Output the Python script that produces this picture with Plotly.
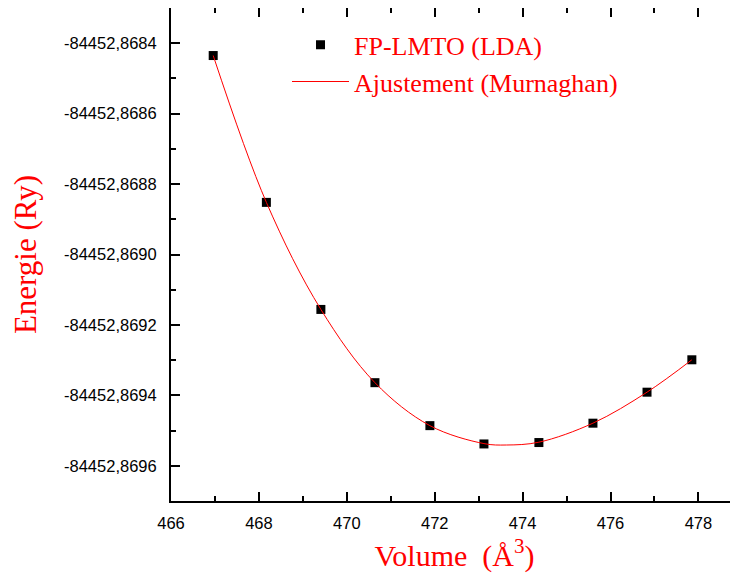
import plotly.graph_objects as go

# Data
volume = [466.96, 468.17, 469.41, 470.64, 471.89, 473.12, 474.37, 475.60, 476.83, 477.85]
energy = [-84452.868435, -84452.868852, -84452.869156, -84452.869364, -84452.869486,
          -84452.869538, -84452.869534, -84452.869479, -84452.869391, -84452.869299]

fit_volume = [466.96, 468.17, 469.41, 470.64, 471.89, 473.12, 473.63, 474.37, 475.60, 476.83, 477.85]
fit_energy = [-84452.868435, -84452.868852, -84452.869156, -84452.869364, -84452.869486,
              -84452.869537, -84452.869541, -84452.869533, -84452.869479, -84452.869391,
              -84452.869299]

y_tick_values = [-84452.8684, -84452.8686, -84452.8688, -84452.8690, -84452.8692,
                 -84452.8694, -84452.8696]
y_tick_labels = ["-84452,8684", "-84452,8686", "-84452,8688", "-84452,8690", "-84452,8692",
                 "-84452,8694", "-84452,8696"]
x_tick_values = [466, 468, 470, 472, 474, 476, 478]
x_tick_labels = ["466", "468", "470", "472", "474", "476", "478"]

y_range = [-84452.8697, -84452.8683]
x_range = [466, 478.9]

fig = go.Figure()
fig.add_trace(go.Scatter(
    x=volume, y=energy, mode="markers", name="FP-LMTO (LDA)",
    marker=dict(symbol="square", size=9, color="black"),
))
fig.add_trace(go.Scatter(
    x=fit_volume, y=fit_energy, mode="lines", name="Ajustement (Murnaghan)",
    line=dict(color="red", width=1, shape="spline", smoothing=1.0),
))

axis_common = dict(
    showgrid=False, zeroline=False, showline=True, linecolor="black", linewidth=2,
    ticks="inside", tickcolor="black", tickwidth=1.5, ticklen=9, automargin=False,
    tickfont=dict(family="Liberation Sans", size=16.5, color="black"),
)

fig.update_xaxes(
    range=x_range, tickmode="array", tickvals=x_tick_values, ticktext=x_tick_labels,
    mirror="allticks", ticklabelstandoff=6,
    minor=dict(dtick=1, tick0=466, ticks="inside", ticklen=5, tickcolor="black", tickwidth=1.5),
    title=dict(text="Volume  (Å<sup>3</sup>)", font=dict(family="Liberation Serif", size=30, color="red"),
               standoff=14),
    **axis_common,
)
fig.update_yaxes(
    range=y_range, tickmode="array", tickvals=y_tick_values, ticktext=y_tick_labels,
    minor=dict(dtick=0.0001, tick0=-84452.8684, ticks="inside", ticklen=5, tickcolor="black",
               tickwidth=1.5),
    title=dict(text="Energie (Ry)", font=dict(family="Liberation Serif", size=31, color="red"),
               standoff=22),
    ticklabelstandoff=9,
    **axis_common,
)

fig.update_layout(
    width=730, height=567,
    margin=dict(l=163, r=0, t=0, b=74),
    plot_bgcolor="white", paper_bgcolor="white",
    showlegend=True,
    legend=dict(x=0.2046, y=0.973, xanchor="left", yanchor="top", itemwidth=57,
                bgcolor="rgba(0,0,0,0)", tracegroupgap=0,
                font=dict(family="Liberation Serif", size=26, color="red")),
)

fig.write_html("out.html")
